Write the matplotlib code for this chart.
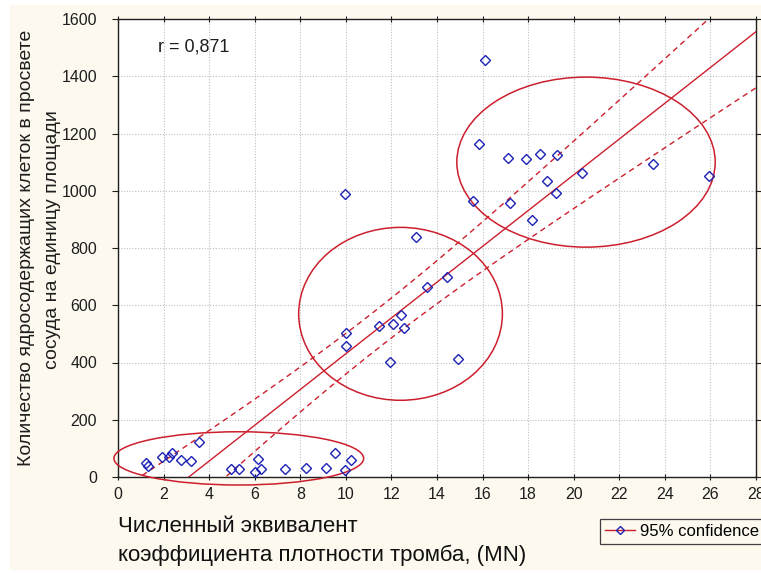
import numpy as np
import matplotlib
matplotlib.use("Agg")
import matplotlib.pyplot as plt
from matplotlib.patches import Ellipse, Rectangle
from matplotlib.lines import Line2D

plt.rcParams['font.family'] = ['Liberation Sans', 'DejaVu Sans']

# ---- data ----
x_low = [1.21, 1.30, 1.91, 2.25, 2.37, 2.76, 3.20, 3.55, 4.98, 5.30, 6.02, 6.16, 6.28, 7.33, 8.25, 9.14, 9.54, 9.95, 10.21]
y_low = [48, 40, 69, 69, 83, 59, 56, 122, 27, 27, 19, 63, 28, 27, 33, 31, 83, 23, 58]

x_mid = [9.98, 13.07, 14.43, 13.58, 12.40, 12.07, 11.44, 12.55, 9.99, 9.99, 11.95, 14.94]
y_mid = [989, 840, 700, 665, 566, 535, 528, 522, 504, 459, 401, 413]

x_high = [15.60, 17.19, 16.11, 15.83, 17.12, 17.92, 18.54, 19.27, 18.81, 19.21, 20.35, 23.50, 25.94, 18.16]
y_high = [965, 956, 1456, 1163, 1116, 1110, 1127, 1124, 1033, 993, 1061, 1093, 1052, 899]

# group ellipses: centre x, centre y, full width (x units), full height (y units)
ell_cx = [5.3, 12.4, 20.54]
ell_cy = [65, 570, 1100]
ell_w = [10.96, 8.94, 11.34]
ell_h = [186, 604, 594]

x_ticks = list(range(0, 29, 2))
y_ticks = list(range(0, 1601, 200))
r_text = "r = 0,871"
ylabel_lines = ["Количество ядросодержащих клеток в просвете", "сосуда на единицу площади"]
xlabel_lines = ["Численный эквивалент", "коэффициента плотности тромба, (MN)"]
legend_label = "95% confidence"
t_crit = 2.017  # Student t, 95%, n-2 df

RED = '#cc1f2d'
BLUE = '#1c22b4'
CREAM = '#fdf9ee'
INK = '#1e1e1e'

x = np.array(x_low + x_mid + x_high, dtype=float)
y = np.array(y_low + y_mid + y_high, dtype=float)
n = len(x)
slope, intercept = np.polyfit(x, y, 1)
resid = y - (slope * x + intercept)
s = np.sqrt(np.sum(resid ** 2) / (n - 2))
xm = x.mean()
sxx = np.sum((x - xm) ** 2)

fig = plt.figure(figsize=(7.61, 5.73), dpi=100)
fig.patch.set_facecolor('white')
fig.patches.append(Rectangle((10 / 761, 3 / 573), 751 / 761, 565 / 573, transform=fig.transFigure,
                             facecolor=CREAM, edgecolor='none', zorder=-10))

ax = fig.add_axes([118 / 761, 96 / 573, 638 / 761, 458 / 573])
ax.set_facecolor('white')
ax.set_xlim(0, 28)
ax.set_ylim(0, 1600)
ax.set_xticks(x_ticks)
ax.set_yticks(y_ticks)
ax.grid(True, linestyle=(0, (1, 1.5)), color='#c0c0c0', linewidth=0.8)
ax.set_axisbelow(True)
for sp in ax.spines.values():
    sp.set_linewidth(1.0)
    sp.set_color('#202020')
ax.tick_params(axis='both', labelsize=11.5, colors=INK, length=4, width=0.8)
ax.tick_params(axis='x', direction='inout', pad=5, top=True)
ax.tick_params(axis='y', direction='out', pad=11, right=True)

xx = np.linspace(0, 28, 300)
yy = slope * xx + intercept
half = t_crit * s * np.sqrt(1 / n + (xx - xm) ** 2 / sxx)
ax.plot(xx, yy, color=RED, lw=1.0, zorder=3)
ax.plot(xx, yy + half, color=RED, lw=1.0, ls=(0, (4, 3)), zorder=3)
ax.plot(xx, yy - half, color=RED, lw=1.0, ls=(0, (4, 3)), zorder=3)

for cx, cy, w, h in zip(ell_cx, ell_cy, ell_w, ell_h):
    ax.add_patch(Ellipse((cx, cy), w, h, fill=False, edgecolor=RED, lw=1.1, clip_on=False, zorder=3))

ax.plot(x, y, linestyle='none', marker='D', ms=4.8, mfc='none', mec=BLUE, mew=1.0, zorder=4)

ax.text(1.75, 1502, r_text, fontsize=13, color=INK, ha='left', va='center')

# y label (two lines)
fig.text(27 / 761, 1 - 248 / 573, ylabel_lines[0], rotation=90, ha='center', va='center', fontsize=14, color=INK)
fig.text(53 / 761, 1 - 240 / 573, ylabel_lines[1], rotation=90, ha='center', va='center', fontsize=14, color=INK)
# x label (two lines, left aligned)
fig.text(118 / 761, 1 - 527 / 573, xlabel_lines[0], ha='left', va='center', fontsize=16, color='#111111')
fig.text(118 / 761, 1 - 555 / 573, xlabel_lines[1], ha='left', va='center', fontsize=16, color='#111111')

handle = Line2D([], [], color=RED, lw=1.0, marker='D', ms=4.5, mfc='none', mec=BLUE, mew=1.0)
leg = fig.legend([handle], [legend_label], loc='upper left', bbox_to_anchor=(600 / 761, 1 - 519 / 573),
                 frameon=True, fancybox=False, framealpha=1, edgecolor='#404040', fontsize=12,
                 handlelength=1.8, handletextpad=0.3, borderpad=0.3, borderaxespad=0)
leg.get_frame().set_linewidth(0.9)
leg.get_frame().set_facecolor(CREAM)

fig.savefig('out.png', dpi=100, facecolor=fig.get_facecolor())
